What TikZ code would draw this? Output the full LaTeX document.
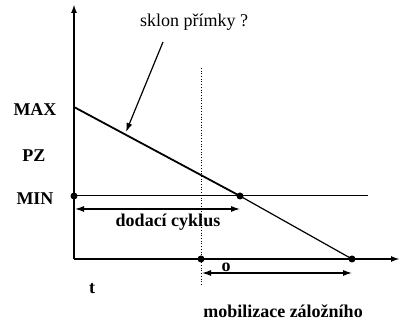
\documentclass[tikz,border=0pt]{standalone}
\usepackage{fontspec}
\setmainfont{Liberation Serif}
\usetikzlibrary{arrows.meta}
\tikzset{
  lbl/.style={font=\fontsize{18}{21}\selectfont\bfseries, inner sep=0pt},
  bod/.style={circle, fill=black, inner sep=0pt, minimum size=7pt},
}
\begin{document}
\begin{tikzpicture}[x=1pt, y=-1pt, >={Latex[length=9pt,width=6pt]}]
\useasboundingbox (0,0) rectangle (400,323);
% osy
\coordinate (O) at (74,259);
\coordinate (ytop) at (74,4);
\coordinate (xend) at (400,259);
\draw[->, line width=2pt] (O) -- (ytop);
\draw[->, line width=2pt] (O) -- (xend);
% body
\coordinate (maxpt) at (74,107);
\node[bod] (minpt) at (74,196) {};
\node[bod] (kriz) at (240,196) {};
\node[bod] (mob) at (201,259) {};
\node[bod] (konec) at (352,259) {};
\coordinate (minend) at (368,196);
\draw[line width=1.8pt] (maxpt) -- (kriz.center);
\draw[line width=1.2pt] (kriz.center) -- (konec.center);
\draw[line width=1pt] (minpt.center) -- (minend);
% tecky
\coordinate (dtop) at (201,68);
\coordinate (dbot) at (201,286);
\draw[dotted, line width=0.7pt] (dtop) -- (dbot);
% sipky
\coordinate (dc1) at (75,209);
\coordinate (dc2) at (240,209);
\draw[<->, line width=1.2pt] (dc1) -- (dc2);
\coordinate (o1) at (202,273);
\coordinate (o2) at (352,273);
\draw[<->, line width=1.2pt] (o1) -- (o2);
% popisky
\node[lbl] (max) at (35,110) {MAX};
\node[lbl] (pz) at (34,156) {PZ};
\node[lbl] (min) at (35,199) {MIN};
\node[lbl] (cyk) at (168,222) {dodací cyklus};
\node[lbl] (t) at (92,289) {t};
\node[lbl] (o) at (226,267) {o};
\node[lbl] (mobil) at (283,311) {mobilizace záložního};
\node[font=\fontsize{18}{21}\selectfont, inner sep=0pt] (sklon) at (194,22) {sklon přímky ?};
\coordinate (s1) at (163,42);
\coordinate (s2) at (126,132);
\draw[->, line width=1.2pt] (s1) -- (s2);
\end{tikzpicture}
\end{document}
